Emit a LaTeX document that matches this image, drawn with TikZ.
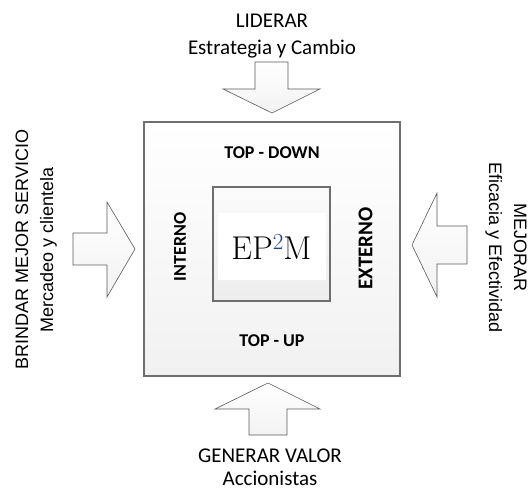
\documentclass[tikz,border=0pt]{standalone}
\usepackage{fontspec}
\setsansfont{Carlito}
\newfontfamily\arialfont{Liberation Sans}
\usetikzlibrary{shadows}
\definecolor{edgegray}{HTML}{6E6E6E}
\definecolor{arrowgray}{HTML}{5A5A5A}
\definecolor{supblue}{HTML}{1F3F8F}
\newcommand{\bigsup}[1]{\raisebox{10pt}{\fontsize{23}{23}\selectfont\color{supblue}#1}}
\begin{document}
\begin{tikzpicture}[x=1pt,y=-1pt,
  toplabel/.style={font=\sffamily\fontsize{21}{25}\selectfont, inner sep=0pt, anchor=base},
  sidelabel/.style={font=\arialfont\fontsize{18}{22}\selectfont, inner sep=0pt, anchor=base},
  zone/.style={font=\sffamily\bfseries\fontsize{18}{22}\selectfont, inner sep=0pt},
  bigarrow/.style={draw=arrowgray, line width=0.6pt, line join=miter,
    top color=white, bottom color=gray!10},
  panel/.style={draw=edgegray, line width=1.1pt, inner sep=0pt,
    drop shadow={shadow xshift=1.2pt, shadow yshift=-1.2pt, opacity=0.25}},
]
\useasboundingbox (0,0) rectangle (528,489);

% outer frame and central core
\node[panel, top color=white, bottom color=gray!11,
      minimum width=256pt, minimum height=254pt] (frame) at (272,249) {};
\node[panel, top color=gray!3, bottom color=gray!14,
      minimum width=117pt, minimum height=114pt] (core) at (271.5,244) {};
\node[fill=white, inner sep=0pt, minimum width=108pt, minimum height=67pt,
      font=\fontsize{33}{36}\selectfont] (ep2m) at (271.5,246.5)
      {EP\bigsup{2}M};

% zone captions inside the frame
\node[zone] (down) at (272,152.5) {TOP - DOWN};
\node[zone] (up) at (272,341) {TOP - UP};
\node[zone, rotate=90] (interno) at (180,247) {INTERNO};
\node[zone, rotate=90, font=\sffamily\bfseries\fontsize{21}{25}\selectfont] (externo) at (365.5,248.5) {EXTERNO};

% arrows pointing at the frame
\path[bigarrow] (255,62) coordinate (topA) -- (288,62) -- (288,89) -- (320,89)
  -- (272,113) coordinate (topTip) -- (223,89) -- (255,89) -- cycle;
\path[bigarrow] (268,383) coordinate (botTip) -- (320,409) -- (287,409) -- (287,435)
  -- (249,435) -- (249,409) -- (215,409) -- cycle;
\path[bigarrow] (73,233) -- (107,233) -- (107,202) -- (135,249) coordinate (leftTip)
  -- (107,297) -- (107,265) -- (73,265) -- cycle;
\path[bigarrow] (412,245) coordinate (rightTip) -- (437,193) -- (437,226) -- (467,226)
  -- (467,264) -- (437,264) -- (437,297) -- cycle;

% captions of the four arrows
\node[toplabel] (lid1) at (272,28) {LIDERAR};
\node[toplabel] (lid2) at (272,55) {Estrategia y Cambio};
\node[toplabel] (gen1) at (270,462) {GENERAR VALOR};
\node[toplabel] (gen2) at (270,485) {Accionistas};
\node[sidelabel, rotate=90] (bri1) at (28,249.5) {BRINDAR MEJOR SERVICIO};
\node[sidelabel, rotate=90] (bri2) at (53,249.5) {Mercadeo y clientela};
\node[sidelabel, rotate=-90] (mej1) at (514,247.5) {MEJORAR};
\node[sidelabel, rotate=-90] (mej2) at (489,247.5) {Eficacia y Efectividad};
\end{tikzpicture}
\end{document}
